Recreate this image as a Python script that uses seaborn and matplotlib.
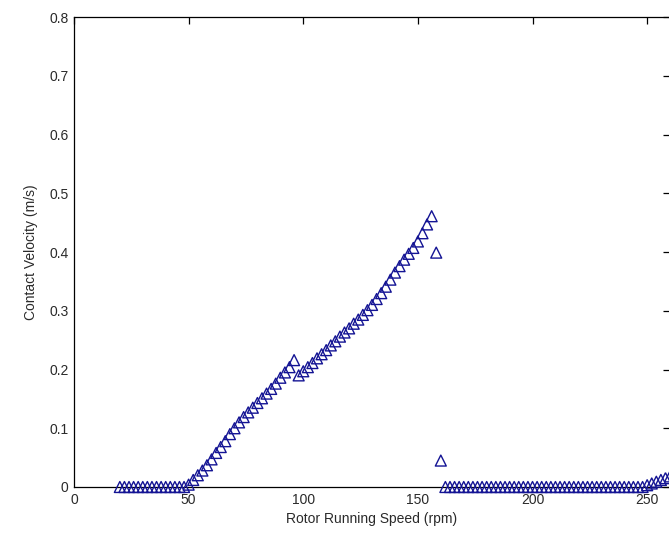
import numpy as np
import pandas as pd
import matplotlib
matplotlib.use("Agg")
import matplotlib.pyplot as plt
import seaborn as sns

# ---- data ----
speed_low = [20, 22, 24, 26, 28, 30, 32, 34, 36, 38, 40, 42, 44, 46, 48]
vel_low = [0.0] * 15

speed_mid = [50, 52, 54, 56, 58, 60, 62, 64, 66, 68, 70, 72, 74, 76, 78,
             80, 82, 84, 86, 88, 90, 92, 94, 96, 98, 100, 102, 104, 106, 108,
             110, 112, 114, 116, 118, 120, 122, 124, 126, 128, 130, 132, 134,
             136, 138, 140, 142, 144, 146, 148, 150, 152, 154, 156, 158, 160]
vel_mid = [0.004, 0.012, 0.020, 0.028, 0.037, 0.047, 0.058, 0.068, 0.078, 0.090,
           0.100, 0.110, 0.119, 0.127, 0.135, 0.143, 0.151, 0.159, 0.167, 0.176,
           0.186, 0.195, 0.204, 0.216, 0.190, 0.197, 0.204, 0.211, 0.219, 0.226,
           0.233, 0.241, 0.248, 0.256, 0.263, 0.270, 0.278, 0.285, 0.293, 0.301,
           0.310, 0.320, 0.330, 0.341, 0.353, 0.365, 0.376, 0.387, 0.397, 0.407,
           0.418, 0.432, 0.447, 0.461, 0.399, 0.045]

speed_high = [162, 164, 166, 168, 170, 172, 174, 176, 178, 180, 182, 184, 186,
              188, 190, 192, 194, 196, 198, 200, 202, 204, 206, 208, 210, 212,
              214, 216, 218, 220, 222, 224, 226, 228, 230, 232, 234, 236, 238,
              240, 242, 244, 246, 248, 250, 252, 254, 256, 258, 260]
vel_high = [0.0] * 44 + [0.003, 0.006, 0.009, 0.012, 0.015, 0.018]

x_ticks = [0, 50, 100, 150, 200, 250]
y_ticks = [0, 0.1, 0.2, 0.3, 0.4, 0.5, 0.6, 0.7, 0.8]
y_ticklabels = ["0", "0.1", "0.2", "0.3", "0.4", "0.5", "0.6", "0.7", "0.8"]

df = pd.DataFrame({
    "speed": speed_low + speed_mid + speed_high,
    "velocity": vel_low + vel_mid + vel_high,
})

# ---- style ----
sns.set_style("white")
plt.rcParams["font.family"] = ["Liberation Sans", "DejaVu Sans"]

fig = plt.figure(figsize=(6.69, 5.42), dpi=100)
ax = fig.add_axes([0.1106, 0.1015, 0.891, 0.867])

mark_color = "#141494"
sns.scatterplot(data=df, x="speed", y="velocity", marker="^", s=62,
                facecolor="none", edgecolor=mark_color, linewidth=1.0,
                ax=ax, legend=False, clip_on=False, zorder=3)

ax.set_xlim(0, 260)
ax.set_ylim(0, 0.8)
ax.set_xticks(x_ticks)
ax.set_yticks(y_ticks)
ax.set_yticklabels(y_ticklabels)

ax.tick_params(direction="in", length=5, width=0.9, top=True, right=True,
               labelsize=10, colors="#2a2a2a", pad=4)
ax.tick_params(axis="both", color="black")
for sp in ax.spines.values():
    sp.set_color("black")
    sp.set_linewidth(0.9)

ax.set_xlabel("Rotor Running Speed (rpm)", fontsize=10, color="#2a2a2a", labelpad=4)
ax.set_ylabel("Contact Velocity (m/s)", fontsize=10, color="#2a2a2a", labelpad=8)

fig.savefig("out.png", dpi=100)
